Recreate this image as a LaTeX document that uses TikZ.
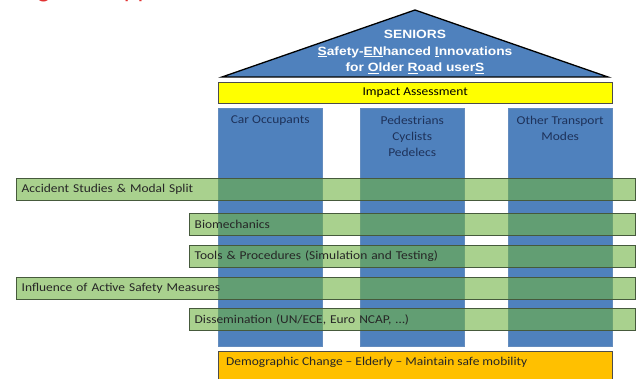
\documentclass[tikz,border=0pt]{standalone}
\usepackage{fontspec}
\setmainfont{Carlito}
\newfontfamily\widesf[FakeStretch=1.12,Ligatures=TeX]{Carlito}
\newfontfamily\roofsf[FakeStretch=1.15]{Liberation Sans}
\usetikzlibrary{positioning}
\definecolor{colblue}{RGB}{79,129,189}
\definecolor{colline}{RGB}{100,140,190}
\definecolor{coltxt}{RGB}{30,50,90}
\definecolor{bandgreen}{RGB}{112,178,67}
\definecolor{bandline}{RGB}{70,90,60}
\definecolor{impactyellow}{RGB}{255,255,0}
\definecolor{demoorange}{RGB}{255,192,0}
\definecolor{headred}{RGB}{225,50,50}

\begin{document}
\begin{tikzpicture}[x=1pt,y=-1pt,font=\widesf\fontsize{12}{14}\selectfont,
  roof/.style={draw=black,line width=1.3pt,fill=colblue},
  column/.style={draw=colline,fill=colblue,anchor=north west,inner sep=0pt,minimum width=104pt,minimum height=238pt},
  coltitle/.style={text=coltxt,align=center,inner sep=0pt,font=\widesf\fontsize{12}{16}\selectfont},
  band/.style={draw=bandline,fill=bandgreen,fill opacity=.6,text opacity=1,anchor=north west,
    minimum height=22.5pt,inner xsep=5.5pt,inner ysep=0pt,text width=#1,align=left,text=black!85},
  plainbar/.style={draw=black!70,anchor=north west,inner sep=0pt}]
\useasboundingbox (0,0) rectangle (638,379);
\clip (0,0) rectangle (638,379);

% heading, cut off at the top
\node[anchor=base west,text=headred,font=\fontsize{26}{30}\selectfont,inner sep=0pt] (head) at (-4,-2) {Integrated approach};

% roof
\coordinate (apex) at (415,10);
\coordinate (eaveL) at (222,77);
\coordinate (eaveR) at (608,77);
\draw[roof] (eaveL) -- (apex) -- (eaveR) -- cycle;
\node[text=white,align=center,font=\roofsf\bfseries\fontsize{12}{16.5}\selectfont] (title) at (415,52)
  {SENIORS\\\underline{S}afety-\underline{EN}hanced \underline{I}nnovations\\for \underline{O}lder \underline{R}oad user\underline{S}};

\node[plainbar,fill=impactyellow,minimum width=394pt,minimum height=21pt] (impact) at (218,82) {Impact Assessment};

% pillars
\node[column] (car) at (218,108) {};
\node[column] (ped) at (360,108) {};
\node[column] (other) at (508,108) {};
\node[coltitle,below=8pt of car.north] (cartxt) {Car Occupants};
\node[coltitle,below=8pt of ped.north] (pedtxt) {Pedestrians\\Cyclists\\Pedelecs};
\node[coltitle,below=8pt of other.north] (othertxt) {Other Transport\\Modes};

% cross-cutting topics
\node[band=608pt] (accident) at (16,178) {Accident Studies \& Modal Split};
\node[band=435pt] (biomech) at (189,213) {Biomechanics};
\node[band=435pt] (tools) at (189,245) {Tools \& Procedures (Simulation and Testing)};
\node[band=608pt] (active) at (16,277) {Influence of Active Safety Measures};
\node[band=435pt] (dissem) at (189,308) {Dissemination (UN/ECE, Euro NCAP, \dots)};

% foundation
\node[plainbar,fill=demoorange,minimum width=394pt,minimum height=40pt] (demo) at (218,351) {};
\node[anchor=west,text=black!85,inner sep=0pt] (demotxt) at ([xshift=8pt,yshift=-11pt]demo.north west)
  {Demographic Change \textendash{} Elderly \textendash{} Maintain safe mobility};
\end{tikzpicture}
\end{document}
